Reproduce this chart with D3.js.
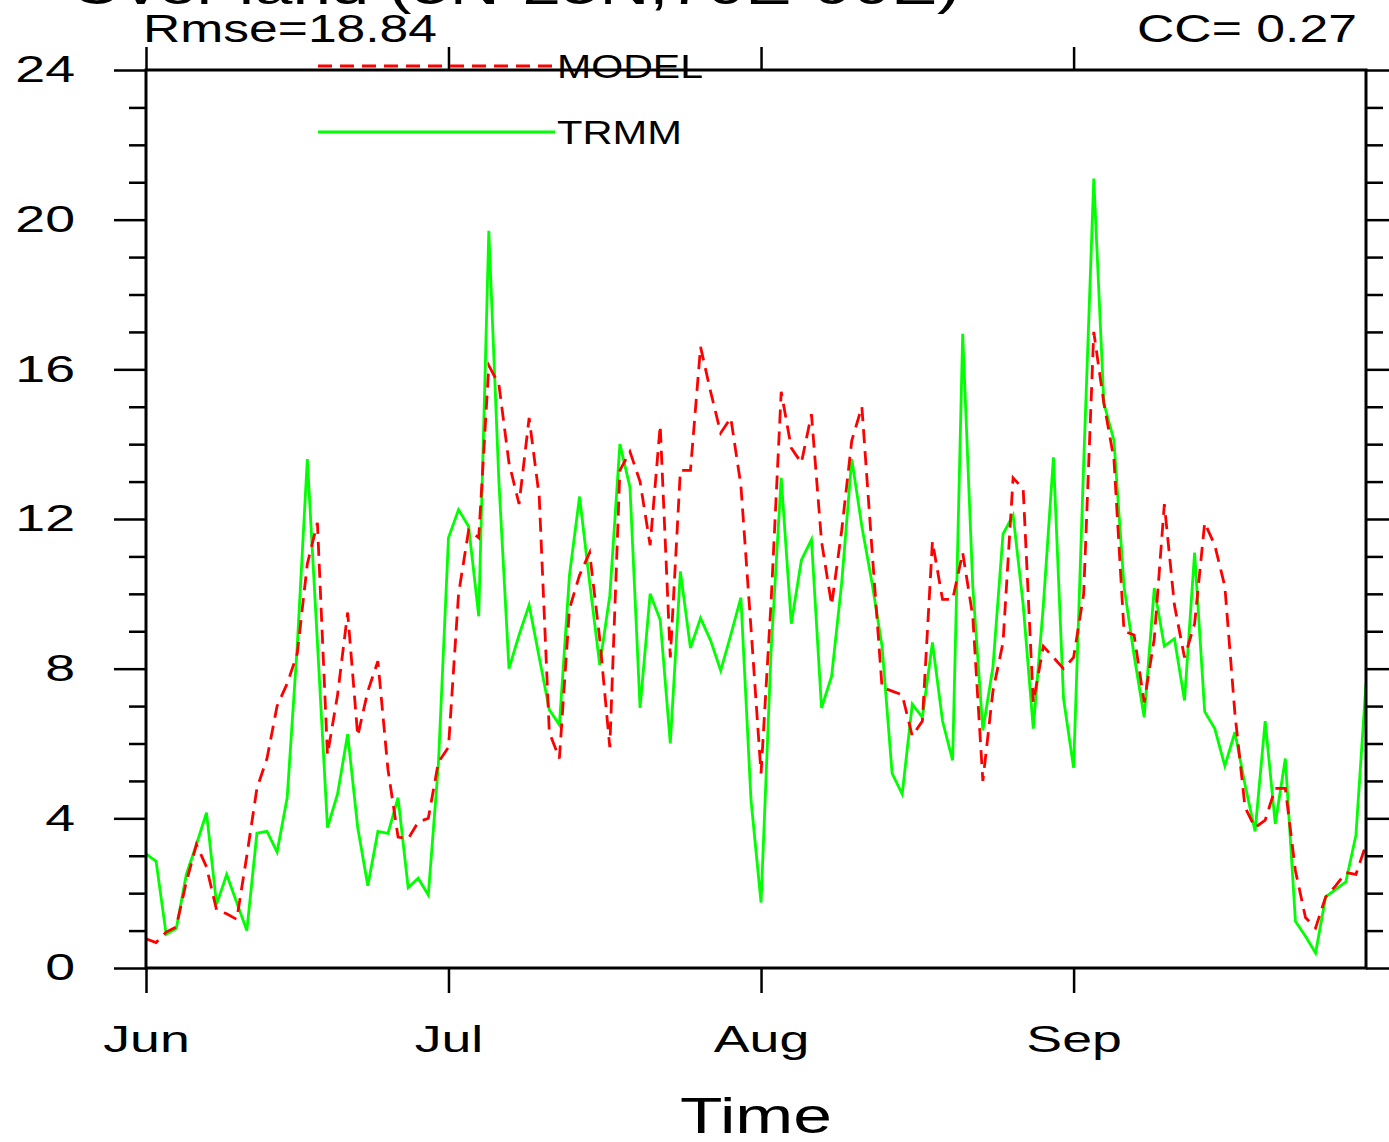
<!DOCTYPE html>
<html><head><meta charset="utf-8">
<script src="https://cdn.jsdelivr.net/npm/d3@7"></script>
<style>
body{margin:0;background:#fff;}
svg{display:block;font-family:"Liberation Sans",Arial,Helvetica,sans-serif;}
</style>
</head><body>
<svg id="chart" width="1389" height="1142"></svg>
<script>
// ---- data ----
const monthLabels = ["Jun","Jul","Aug","Sep"];
const monthStartDays = [0,30,61,92];
const yTickValues = [0,4,8,12,16,20,24];
const yMinorValues = [1,2,3,5,6,7,9,10,11,13,14,15,17,18,19,21,22,23];
const seriesNames = ["MODEL","TRMM"];
const titleText = "Over land (5N-25N,70E-90E)";
const rmseText = "Rmse=18.84";
const ccText = "CC= 0.27";
const xTitle = "Time";

const model = [0.78,0.68,0.96,1.1,2.3,3.3,2.7,1.55,1.45,1.3,
  3.0,4.8,5.6,7.0,7.6,8.4,10.8,11.9,5.7,7.3,
  9.5,6.2,7.4,8.2,5.3,3.5,3.45,3.9,4.0,5.5,
  5.9,10.0,11.7,11.5,16.1,15.6,13.5,12.4,14.7,12.6,
  6.3,5.6,9.6,10.5,11.1,8.8,5.9,13.3,13.8,13.0,
  11.3,14.5,8.3,13.3,13.3,16.6,15.4,14.3,14.7,12.9,
  9.1,5.2,9.8,15.4,13.9,13.5,14.8,11.4,9.7,11.7,
  14.1,15.0,11.2,7.5,7.4,7.3,6.2,6.6,11.4,9.85,
  9.85,11.1,9.4,5.0,7.4,8.7,13.1,12.8,7.1,8.6,
  8.3,8.0,8.3,10.0,17.0,15.1,13.6,9.0,8.9,7.1,
  8.8,12.4,9.7,8.3,9.2,11.9,11.3,10.2,6.8,4.3,
  3.75,3.95,4.8,4.8,2.6,1.35,1.07,1.9,2.2,2.55,
  2.5,3.3];

const trmm = [3.05,2.85,0.9,1.05,2.5,3.3,4.15,1.7,2.5,1.75,
  1.0,3.6,3.65,3.1,4.55,8.6,13.6,8.7,3.75,4.65,
  6.25,3.75,2.2,3.65,3.6,4.55,2.15,2.4,1.95,5.45,
  11.5,12.25,11.8,9.4,19.7,13.0,8.0,8.9,9.7,8.3,
  6.9,6.5,10.5,12.6,10.3,8.1,9.95,14.0,12.85,6.95,
  10.0,9.3,6.0,10.6,8.55,9.35,8.75,7.95,8.9,9.9,
  4.5,1.75,8.5,13.1,9.2,10.9,11.45,6.95,7.8,10.3,
  13.6,11.8,10.3,8.6,5.2,4.65,7.05,6.7,8.7,6.6,
  5.55,16.95,10.2,6.35,8.05,11.6,12.1,9.7,6.4,9.7,
  13.65,7.2,5.35,13.5,21.1,15.1,14.1,10.2,8.35,6.7,
  10.15,8.6,8.8,7.15,11.1,6.85,6.4,5.4,6.3,4.9,
  3.65,6.6,3.85,5.6,1.25,0.85,0.4,1.9,2.1,2.3,
  3.55,7.6];

// ---- layout ----
const L = 146, R = 1366, T = 70, B = 968;
const svg = d3.select("#chart");
const x = d3.scaleLinear().domain([0, model.length - 1]).range([L, R]);
const y = d3.scaleLinear().domain([0, 24]).range([B, T]);

function stretch(sel, factor) {
  sel.each(function() {
    const w = this.getComputedTextLength();
    d3.select(this).attr("textLength", w * factor).attr("lengthAdjust", "spacingAndGlyphs");
  });
}

svg.append("defs").append("clipPath").attr("id","plotclip")
  .append("rect").attr("x", L).attr("y", T).attr("width", R - L).attr("height", B - T);

// ---- series ----
const line = d3.line().x((d, i) => x(i)).y(d => y(d));
svg.append("path").datum(trmm).attr("d", line)
  .attr("fill","none").attr("stroke","#00ff00").attr("stroke-width",2.8)
  .attr("clip-path","url(#plotclip)");
svg.append("path").datum(model).attr("d", line)
  .attr("fill","none").attr("stroke","#ff0000").attr("stroke-width",2.8)
  .attr("stroke-dasharray","14,8").attr("clip-path","url(#plotclip)");

// ---- axes ----
function styleAxis(g) {
  g.select(".domain").remove();
  g.selectAll(".tick line").attr("stroke","#000").attr("stroke-width",2.5);
}
const gLeft = svg.append("g").attr("transform", `translate(${L},0)`)
  .call(d3.axisLeft(y).tickValues(yTickValues).tickSize(32).tickPadding(39).tickFormat(d3.format("d")));
styleAxis(gLeft);
gLeft.selectAll("text").attr("font-size", 37).attr("fill","#000")
  .attr("font-family", '"Liberation Sans",Arial,sans-serif');
stretch(gLeft.selectAll("text"), 1.45);
svg.append("g").attr("transform", `translate(${L},0)`)
  .call(d3.axisLeft(y).tickValues(yMinorValues).tickSize(17).tickFormat(""))
  .call(styleAxis);
svg.append("g").attr("transform", `translate(${R},0)`)
  .call(d3.axisRight(y).tickValues(yTickValues).tickSize(32).tickFormat(""))
  .call(styleAxis);
svg.append("g").attr("transform", `translate(${R},0)`)
  .call(d3.axisRight(y).tickValues(yMinorValues).tickSize(17).tickFormat(""))
  .call(styleAxis);
svg.append("g").attr("transform", `translate(0,${T})`)
  .call(d3.axisTop(x).tickValues(monthStartDays).tickSize(23).tickFormat(""))
  .call(styleAxis);
const gBottom = svg.append("g").attr("transform", `translate(0,${B})`)
  .call(d3.axisBottom(x).tickValues(monthStartDays).tickSize(25).tickPadding(33)
    .tickFormat((d, i) => monthLabels[i]));
styleAxis(gBottom);
gBottom.selectAll("text").attr("font-size", 37).attr("fill","#000")
  .attr("font-family", '"Liberation Sans",Arial,sans-serif');
stretch(gBottom.selectAll("text"), 1.45);

svg.append("rect").attr("x", L).attr("y", T).attr("width", R - L).attr("height", B - T)
  .attr("fill","none").attr("stroke","#000").attr("stroke-width",3);

// ---- legend ----
const legendY = [66, 132];
const legendStyles = [
  {stroke:"#ff0000", dash:"14,8"},
  {stroke:"#00ff00", dash:null}
];
const legendWidths = [146, 125];
seriesNames.forEach((name, i) => {
  svg.append("line").attr("x1", 318).attr("x2", 555)
    .attr("y1", legendY[i]).attr("y2", legendY[i])
    .attr("stroke", legendStyles[i].stroke).attr("stroke-width", 2.8)
    .attr("stroke-dasharray", legendStyles[i].dash);
  svg.append("text").attr("x", 557).attr("y", legendY[i] + 12)
    .attr("font-size", 33).attr("fill","#000")
    .attr("textLength", legendWidths[i]).attr("lengthAdjust","spacingAndGlyphs")
    .text(name);
});

// ---- texts ----
svg.append("text").attr("x", 70).attr("y", 4).attr("font-size", 50)
  .attr("textLength", 890).attr("lengthAdjust","spacingAndGlyphs").text(titleText);
svg.append("text").attr("x", 143).attr("y", 42).attr("font-size", 38)
  .attr("textLength", 294).attr("lengthAdjust","spacingAndGlyphs").text(rmseText);
svg.append("text").attr("x", 1137).attr("y", 42).attr("font-size", 38)
  .attr("textLength", 220).attr("lengthAdjust","spacingAndGlyphs").text(ccText);
svg.append("text").attr("x", 680).attr("y", 1133).attr("font-size", 50)
  .attr("textLength", 152).attr("lengthAdjust","spacingAndGlyphs").text(xTitle);
</script>
</body></html>
